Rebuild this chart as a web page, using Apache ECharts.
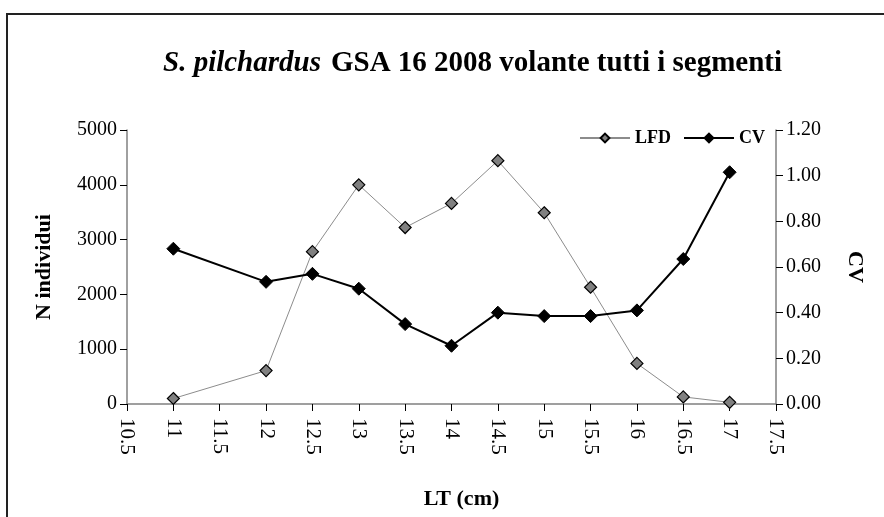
<!DOCTYPE html>
<html>
<head>
<meta charset="utf-8">
<script src="https://cdn.jsdelivr.net/npm/echarts@6/dist/echarts.min.js"></script>
<style>
  html, body { margin: 0; padding: 0; background: #fff; }
  #main { width: 884px; height: 517px; }
</style>
</head>
<body>
<div id="main"></div>
<script>
// LT (cm) classes and values
var lt = [11, 12, 12.5, 13, 13.5, 14, 14.5, 15, 15.5, 16, 16.5, 17];
var lfd = [100, 610, 2780, 4000, 3220, 3660, 4440, 3490, 2130, 740, 130, 30];
var cv = [0.68, 0.535, 0.57, 0.505, 0.35, 0.255, 0.40, 0.385, 0.385, 0.41, 0.635, 1.015];

var font = "'Liberation Serif', 'Times New Roman', serif";

function pairs(xs, ys) {
    var out = [];
    for (var i = 0; i < xs.length; i++) out.push([xs[i], ys[i]]);
    return out;
}

var chart = echarts.init(document.getElementById('main'));

chart.setOption({
    backgroundColor: '#fff',
    animation: false,
    title: {
        text: '{i|S. pilchardus}  {b|GSA 16 2008 volante tutti i segmenti}',
        left: 158,
        top: 44,
        textStyle: {
            rich: {
                i: { fontFamily: font, fontStyle: 'italic', fontSize: 29, color: '#000' },
                b: { fontFamily: font, fontWeight: 'bold', fontSize: 29, color: '#000' }
            }
        }
    },
    legend: {
        left: 574,
        top: 124,
        itemWidth: 50,
        itemHeight: 11,
        itemGap: 12,
        textStyle: { fontFamily: font, fontWeight: 'bold', fontSize: 18, color: '#000' },
        data: ['LFD', 'CV']
    },
    grid: { left: 127, right: 108, top: 130, bottom: 113, outerBoundsMode: 'none' },
    xAxis: {
        type: 'value',
        min: 10.5,
        max: 17.5,
        interval: 0.5,
        name: 'LT (cm)',
        nameLocation: 'middle',
        nameGap: 84,
        nameTextStyle: { fontFamily: font, fontWeight: 'bold', fontSize: 22, color: '#000', padding: [0, 0, 0, 20] },
        axisLine: { lineStyle: { color: '#808080', width: 1.5 } },
        axisTick: { show: true, length: 7, lineStyle: { color: '#000' } },
        axisLabel: { rotate: -90, margin: 14, fontFamily: font, fontSize: 21, color: '#000' },
        splitLine: { show: false }
    },
    yAxis: [
        {
            type: 'value',
            min: 0,
            max: 5000,
            interval: 1000,
            name: 'N individui',
            nameLocation: 'middle',
            nameGap: 72,
            nameTextStyle: { fontFamily: font, fontWeight: 'bold', fontSize: 22, color: '#000' },
            axisLine: { show: true, lineStyle: { color: '#808080', width: 1.5 } },
            axisTick: { show: true, length: 7, lineStyle: { color: '#000' } },
            axisLabel: {
                margin: 10, fontFamily: font, fontSize: 20, color: '#000',
                formatter: function (v) { return String(v); }
            },
            splitLine: { show: false }
        },
        {
            type: 'value',
            min: 0,
            max: 1.2,
            interval: 0.2,
            position: 'right',
            name: 'CV',
            nameLocation: 'middle',
            nameGap: 68,
            nameRotate: -90,
            nameTextStyle: { fontFamily: font, fontWeight: 'bold', fontSize: 22, color: '#000' },
            axisLine: { show: true, lineStyle: { color: '#808080', width: 1.5 } },
            axisTick: { show: true, length: 7, lineStyle: { color: '#000' } },
            axisLabel: {
                margin: 10, fontFamily: font, fontSize: 20, color: '#000',
                formatter: function (v) { return v.toFixed(2); }
            },
            splitLine: { show: false }
        }
    ],
    series: [
        {
            name: 'LFD',
            type: 'line',
            yAxisIndex: 0,
            data: pairs(lt, lfd),
            symbol: 'diamond',
            symbolSize: 12,
            lineStyle: { color: '#8c8c8c', width: 1 },
            itemStyle: { color: '#808080', borderColor: '#000', borderWidth: 1.2 }
        },
        {
            name: 'CV',
            type: 'line',
            yAxisIndex: 1,
            data: pairs(lt, cv),
            symbol: 'diamond',
            symbolSize: 13,
            lineStyle: { color: '#000', width: 2 },
            itemStyle: { color: '#000', borderColor: '#000', borderWidth: 1 }
        }
    ],
    graphic: [
        {
            type: 'rect',
            silent: true,
            shape: { x: 7, y: 14, width: 900, height: 600 },
            style: { fill: null, stroke: '#222', lineWidth: 2 }
        }
    ]
});
</script>
</body>
</html>
